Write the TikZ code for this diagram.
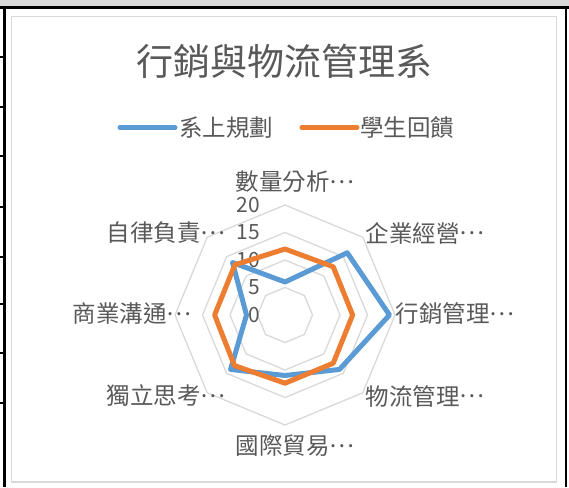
\documentclass[tikz,border=0pt]{standalone}
\usepackage{fontspec}
\setmainfont{Noto Sans CJK TC}
\usepackage{xcolor}
\usetikzlibrary{positioning}

\definecolor{planblue}{HTML}{5B9BD5}
\definecolor{feedorange}{HTML}{ED7D31}
\definecolor{gridgray}{HTML}{D9D9D9}
\definecolor{textgray}{HTML}{595959}
\newcommand{\midell}{\raisebox{0.3em}{…}}

\begin{document}
\begin{tikzpicture}[x=1pt,y=-1pt,
    ring/.style={draw=gridgray,line width=1.3pt},
    series/.style={line width=5pt,line join=round,line cap=round},
    keyline/.style={line width=5pt,line cap=round},
    cat/.style={text=textgray,font=\fontsize{23.5}{23.5}\selectfont,inner sep=0pt},
    tick/.style={text=textgray,font=\fontsize{21}{21}\selectfont,inner sep=0pt,anchor=east}]
    \useasboundingbox (0,0) rectangle (569,487);
    % sheet round the chart
    \fill[gridgray] (0,0) rectangle (569,7);
    \draw[line width=2.5pt] (0,7.5) -- (569,7.5);
    \draw[line width=2.5pt] (4.5,7.5) -- (4.5,487);
    \draw[line width=2.5pt] (566,7.5) -- (566,487);
    \foreach \y in {57,107,156,207,257,304,353,403}
        \draw[line width=2pt] (0,\y) -- (4.5,\y);
    \draw[gridgray,line width=1.5pt,fill=white] (11.5,16.5) rectangle (556.5,482);

    % title and legend
    \node[text=textgray,font=\fontsize{37}{37}\selectfont] (title) at (284,61) {行銷與物流管理系};
    \coordinate (planA) at (120,127.5);
    \coordinate (planB) at (175,127.5);
    \coordinate (feedA) at (302,127.5);
    \coordinate (feedB) at (357,127.5);
    \draw[keyline,planblue] (planA) -- (planB);
    \draw[keyline,feedorange] (feedA) -- (feedB);
    \node[cat,right=4pt of planB] (plan) {系上規劃};
    \node[cat,right=3pt of feedB] (feed) {學生回饋};

    % radar
    \coordinate (O) at (285,315);
    \begin{scope}[shift={(O)},x=5.5pt,y=-5.5pt]
        \foreach \r in {5,10,15,20}
            \draw[ring] (-90:\r) \foreach \k in {1,...,7} {-- ({\k*45-90}:\r)} -- cycle;
        \foreach \v in {0,5,10,15,20}
            \node[tick] (t\v) at (-4.5,-\v) {\v};
        \draw[series,planblue] (-90:6) -- (-45:16) -- (0:19) -- (45:14) -- (90:11)
            -- (135:14) -- (180:7) -- (225:13.5) -- cycle;
        \draw[series,feedorange] (-90:12) -- (-45:12.4) -- (0:12.3) -- (45:12.4) -- (90:12.4)
            -- (135:13) -- (180:12.8) -- (225:12.9) -- cycle;
    \end{scope}

    % category labels
    \node[cat] (c1) at (295,182) {數量分析\midell};
    \node[cat] (c2) at (425,233) {企業經營\midell};
    \node[cat] (c3) at (455,314) {行銷管理\midell};
    \node[cat] (c4) at (425,396) {物流管理\midell};
    \node[cat] (c5) at (295,446) {國際貿易\midell};
    \node[cat] (c6) at (166,396) {獨立思考\midell};
    \node[cat] (c7) at (132,314) {商業溝通\midell};
    \node[cat] (c8) at (166,233) {自律負責\midell};
\end{tikzpicture}
\end{document}
